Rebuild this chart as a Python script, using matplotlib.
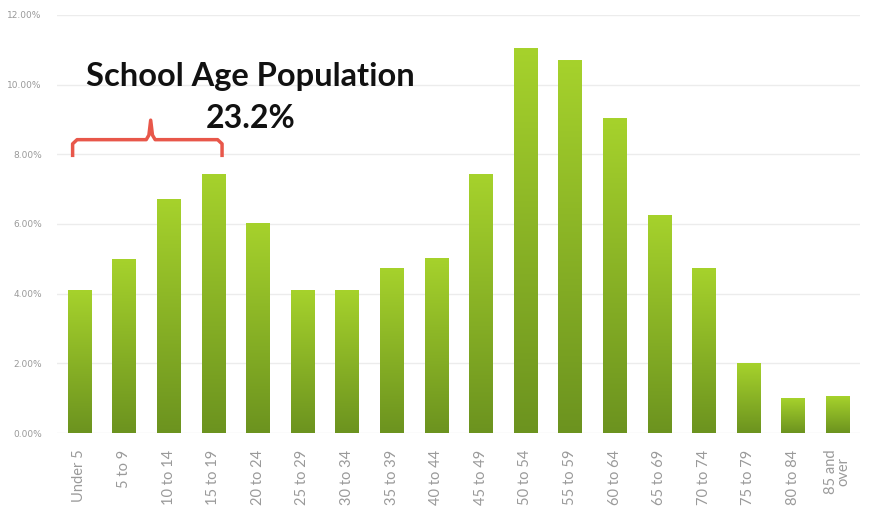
import numpy as np
import matplotlib.pyplot as plt
from matplotlib.colors import LinearSegmentedColormap
from matplotlib.ticker import FuncFormatter

# Share of population by age group (%)
age_groups = ['Under 5', '5 to 9', '10 to 14', '15 to 19', '20 to 24', '25 to 29',
              '30 to 34', '35 to 39', '40 to 44', '45 to 49', '50 to 54', '55 to 59',
              '60 to 64', '65 to 69', '70 to 74', '75 to 79', '80 to 84', '85 and\nover']
shares = [4.10, 4.99, 6.71, 7.43, 6.00, 4.10, 4.10, 4.73, 5.00, 7.43,
          11.05, 10.70, 9.04, 6.23, 4.73, 2.00, 1.00, 1.06]
y_ticks = [0, 2, 4, 6, 8, 10, 12]

fig = plt.figure(figsize=(8.69, 5.08), dpi=100)
ax = fig.add_axes([0.0656, 0.1476, 0.924, 0.823])

cmap = LinearSegmentedColormap.from_list('grn', ['#6c931f', '#a6d22c'])
grad = np.linspace(0, 1, 256).reshape(-1, 1)
width = 0.52
x = np.arange(len(age_groups))
for xi, v in zip(x, shares):
    ax.imshow(grad, extent=[xi - width / 2, xi + width / 2, 0, v], origin='lower',
              aspect='auto', cmap=cmap, zorder=2)

ax.set_xlim(-0.5, 17.5)
ax.set_ylim(0, 12)
ax.set_yticks(y_ticks)
ax.yaxis.set_major_formatter(FuncFormatter(lambda v, p: f'{v:.2f}%'))
ax.set_xticks(x)
ax.set_xticklabels(age_groups, rotation=90, linespacing=0.85, family='Lato')
ax.tick_params(axis='y', length=0, labelsize=6.5, labelcolor='#999999', pad=11)
ax.tick_params(axis='x', length=0, labelsize=10.5, labelcolor='#9a9a9a', pad=12)
ax.grid(axis='y', color='#ececec', linewidth=1, zorder=0)
for s in ax.spines.values():
    s.set_visible(False)

# school-age bracket
bx = [-0.15, -0.15, -0.05, 1.5, 1.56, 1.6, 1.64, 1.7, 3.1, 3.2, 3.2]
by = [7.92, 8.3, 8.42, 8.42, 8.55, 8.98, 8.55, 8.42, 8.42, 8.3, 7.92]
ax.plot(bx, by, color='#e8574a', linewidth=2.5, solid_capstyle='butt',
        solid_joinstyle='round', zorder=3)

ax.text(3.83, 10.22, 'School Age Population', ha='center', va='center',
        fontsize=23.5, fontweight='bold', family='Lato', color='#111111')
ax.text(3.83, 9.02, '23.2%', ha='center', va='center',
        fontsize=23, fontweight='bold', family='Lato', color='#111111')

fig.savefig('out.png', dpi=100)
